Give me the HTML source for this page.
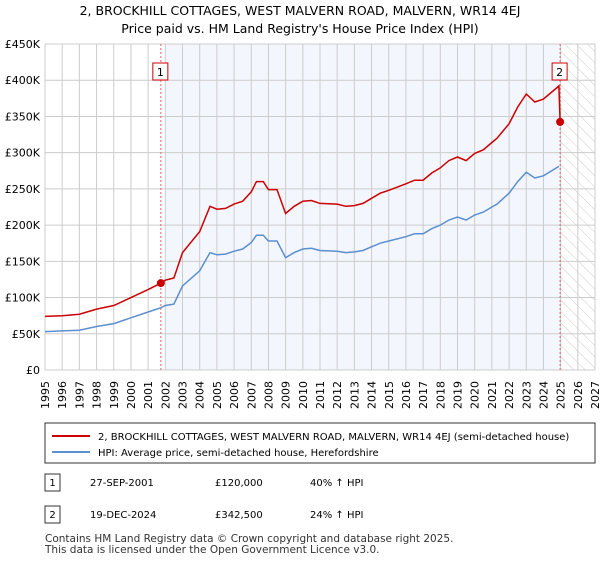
<!DOCTYPE html>
<html><head><meta charset="utf-8"><style>
body{margin:0;background:#fff;font-family:"Liberation Sans","DejaVu Sans",sans-serif;}
svg text{font-family:"DejaVu Sans","Liberation Sans",sans-serif;}
</style></head><body>
<svg id="c" width="600" height="560" xmlns="http://www.w3.org/2000/svg">
<defs><pattern id="hatch" width="8" height="8" patternUnits="userSpaceOnUse" patternTransform="rotate(-45)"><line x1="0" y1="0" x2="0" y2="8" stroke="#ccc" stroke-width="1"/></pattern></defs>
<text x="300" y="15" text-anchor="middle" font-size="12.5">2, BROCKHILL COTTAGES, WEST MALVERN ROAD, MALVERN, WR14 4EJ</text>
<text x="300" y="33" text-anchor="middle" font-size="12.5">Price paid vs. HM Land Registry's House Price Index (HPI)</text>
<g id="plot"></g>
<rect x="45" y="423" width="550" height="40" fill="#fff" stroke="#333"/>
<line x1="52" y1="436" x2="90" y2="436" stroke="#cc0000" stroke-width="2"/>
<text x="98" y="440" font-size="10">2, BROCKHILL COTTAGES, WEST MALVERN ROAD, MALVERN, WR14 4EJ (semi-detached house)</text>
<line x1="52" y1="452" x2="90" y2="452" stroke="#5b8fd0" stroke-width="2"/>
<text x="98" y="456" font-size="10">HPI: Average price, semi-detached house, Herefordshire</text>
<g font-size="10">
<rect x="45" y="474" width="15" height="17" fill="#fff" stroke="#333"/>
<text x="52.5" y="486" text-anchor="middle">1</text>
<text x="90" y="486">27-SEP-2001</text><text x="215" y="486">£120,000</text><text x="310" y="486">40% ↑ HPI</text>
<rect x="45" y="506" width="15" height="17" fill="#fff" stroke="#333"/>
<text x="52.5" y="518" text-anchor="middle">2</text>
<text x="90" y="518">19-DEC-2024</text><text x="215" y="518">£342,500</text><text x="310" y="518">24% ↑ HPI</text>
</g>
<text x="45" y="542" font-size="10.5" fill="#333">Contains HM Land Registry data © Crown copyright and database right 2025.</text>
<text x="45" y="553" font-size="10.5" fill="#333">This data is licensed under the Open Government Licence v3.0.</text>
</svg>
<script>
const yTicks=[0,50,100,150,200,250,300,350,400,450];
const yTickLabels=["£0","£50K","£100K","£150K","£200K","£250K","£300K","£350K","£400K","£450K"];
const years=[1995,1996,1997,1998,1999,2000,2001,2002,2003,2004,2005,2006,2007,2008,2009,2010,2011,2012,2013,2014,2015,2016,2017,2018,2019,2020,2021,2022,2023,2024,2025,2026,2027];
const hpiDates=[1995,1996,1997,1998,1999,2000,2001,2001.75,2002,2002.5,2003,2004,2004.6,2005,2005.5,2006,2006.5,2007,2007.3,2007.7,2008,2008.5,2009,2009.5,2010,2010.5,2011,2012,2012.5,2013,2013.5,2014,2014.5,2015,2016,2016.5,2017,2017.5,2018,2018.5,2019,2019.5,2020,2020.5,2021,2021.3,2022,2022.5,2023,2023.5,2024,2024.9];
const hpiValues=[53,54,55,60,64,72,80,86,89,91,116,137,162,159,160,164,167,176,186,186,178,178,155,162,167,168,165,164,162,163,165,170,175,178,184,188,188,195,200,207,211,207,214,218,225,229,244,260,273,265,268,281];
const propDates=[1995,1996,1997,1998,1999,2000,2001,2001.75,2002,2002.5,2003,2004,2004.6,2005,2005.5,2006,2006.5,2007,2007.3,2007.7,2008,2008.5,2009,2009.5,2010,2010.5,2011,2012,2012.5,2013,2013.5,2014,2014.5,2015,2016,2016.5,2017,2017.5,2018,2018.5,2019,2019.5,2020,2020.5,2021,2021.3,2022,2022.5,2023,2023.5,2024,2024.9,2024.97];
const propValues=[74,75,77,84,89,100,111,120,124,127,162,191,226,222,223,229,233,246,260,260,249,249,216,226,233,234,230,229,226,227,230,237,244,248,257,262,262,272,279,289,294,289,299,304,314,320,340,363,381,370,374,392,342.5];
const saleDates=[2001.74,2024.97];
const saleValues=[120,342.5];
const saleLabels=["1","2"];
const X0=45,X1=595,Y0=370,Y1=44;
const xs=t=>X0+(t-1995)/(2027-1995)*(X1-X0);
const ys=v=>Y0-v/450*(Y0-Y1);
const NS="http://www.w3.org/2000/svg";
const g=document.getElementById('plot');
function mk(tag,attrs){const e=document.createElementNS(NS,tag);for(const k in attrs)e.setAttribute(k,attrs[k]);g.appendChild(e);return e;}
let e=mk('rect',{x:xs(2002),y:Y1,width:xs(saleDates[1])-xs(2002),height:Y0-Y1,fill:'#f3f6fd'});


e=mk('rect',{x:xs(saleDates[1]),y:Y1,width:X1-xs(saleDates[1]),height:Y0-Y1,fill:'url(#hatch)'});


years.forEach((y,i)=>{
 e=mk('line',{x1:xs(y),x2:xs(y),y1:Y1,y2:Y0,stroke:'#ccc','stroke-width':1});
 
 
 const tx=xs(y)+4,ty=381;
 e=mk('text',{x:tx,y:ty,'text-anchor':'end','font-size':11,transform:'rotate(-90 '+tx+' '+ty+')'});
 e.textContent=y;
 
 
});
yTicks.forEach((v,i)=>{
 e=mk('line',{x1:X0,x2:X1,y1:ys(v),y2:ys(v),stroke:'#ccc','stroke-width':1});
 
 
 e=mk('text',{x:X0-5,y:ys(v)+4,'text-anchor':'end','font-size':11});
 e.textContent=yTickLabels[i];
 
 
});
saleDates.forEach((d,i)=>{
 e=mk('line',{x1:xs(d),x2:xs(d),y1:Y1,y2:Y0,stroke:'#e06666','stroke-width':1,'stroke-dasharray':'2,2'});
 
 
});
function path(dates,vals,color,name){
 const d=dates.map((t,i)=>(i?'L':'M')+xs(t).toFixed(1)+','+ys(vals[i]).toFixed(1)).join('');
 const p=mk('path',{d:d,fill:'none',stroke:color,'stroke-width':1.5});
 
 
}
path(hpiDates,hpiValues,'#5b8fd0','hpi-line');
path(propDates,propValues,'#cc0000','property-line');
saleDates.forEach((d,i)=>{
 e=mk('circle',{cx:xs(d),cy:ys(saleValues[i]),r:4,fill:'#cc0000'});
 
 
 e=mk('rect',{x:xs(d)-8,y:63,width:15,height:17,fill:'#fff',stroke:'#cc0000'});
 
 
 e=mk('text',{x:xs(d)-0.5,y:76,'text-anchor':'middle','font-size':11});
 e.textContent=saleLabels[i];
 
 
});
</script>
</body></html>
